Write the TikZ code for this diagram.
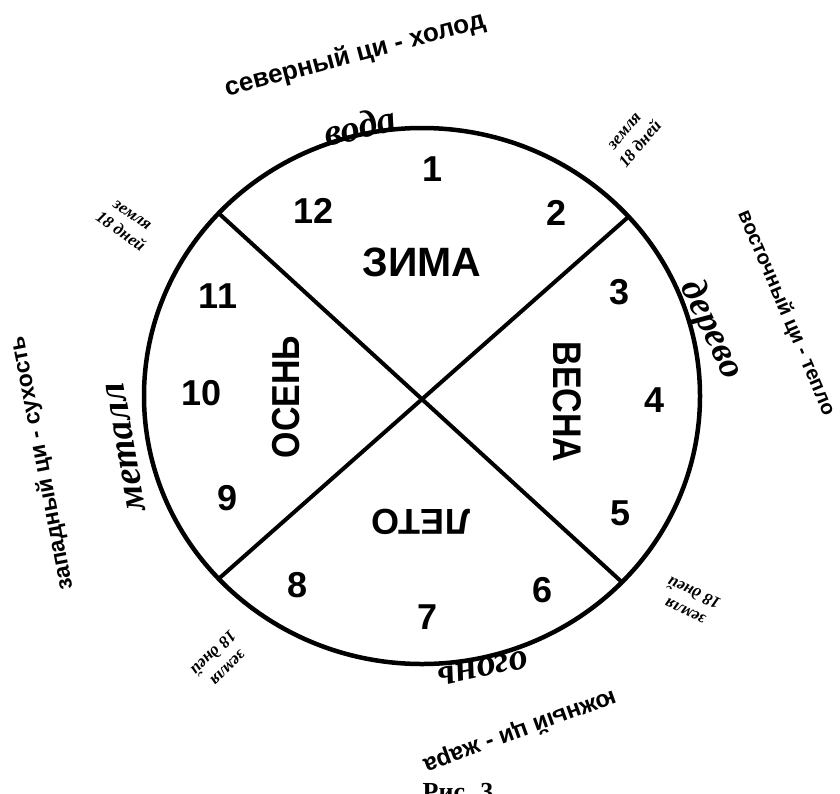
\documentclass[tikz,border=0pt]{standalone}
\usepackage{fontspec}
\setmainfont{Liberation Sans}
\newfontfamily\handfont{Liberation Serif}
\begin{document}
\begin{tikzpicture}[x=1pt,y=-1pt,
  rim/.style={line width=4.5pt},
  diag/.style={line width=4pt},
  num/.style={font=\fontsize{36}{40}\selectfont\bfseries},
  season/.style={font=\fontsize{#1}{#1}\selectfont\bfseries},
  qi/.style={font=\fontsize{#1}{#1}\selectfont\bfseries},
  elem/.style={font=\fontsize{#1}{#1}\selectfont\handfont\bfseries\itshape},
  earth/.style={font=\fontsize{17}{21}\selectfont\handfont\bfseries\itshape, align=center}]
\fill[white] (0,0) rectangle (840,793);
\useasboundingbox (0,0) rectangle (840,793);
\coordinate (c) at (422,396);
\draw[rim] (c) ellipse [x radius=278, y radius=268];
\path (c) ++(-137:278 and 268) coordinate (tl);
\path (c) ++(44:278 and 268) coordinate (br);
\path (c) ++(-42:278 and 268) coordinate (tr);
\path (c) ++(137:278 and 268) coordinate (bl);
\draw[diag] (tl) -- (br);
\draw[diag] (tr) -- (bl);
% month numbers
\node[num] (n1) at (433,169) {1};
\node[num] (n2) at (557,213) {2};
\node[num] (n3) at (620,292) {3};
\node[num] (n4) at (655,400) {4};
\node[num] (n5) at (621,513) {5};
\node[num] (n6) at (543,590) {6};
\node[num] (n7) at (428,617) {7};
\node[num] (n8) at (298,585) {8};
\node[num] (n9) at (228,498) {9};
\node[num] (n10) at (202,393) {10};
\node[num] (n11) at (218,296) {11};
\node[num] (n12) at (314,211) {12};
% seasons
\node[season=41] (zima) at (422,262) {ЗИМА};
\node[season=40, rotate=-90] (vesna) at (567,402) {\scalebox{0.85}[1]{ВЕСНА}};
\node[season=39, rotate=90] (osen) at (286,397) {\scalebox{0.87}[1]{ОСЕНЬ}};
\node[season=36, rotate=180] (leto) at (421,522) {ЛЕТО};
% qi of the four directions
\node[qi=26, rotate=15] (north) at (355,55) {северный ци - холод};
\node[qi=20.5, rotate=-67] (east) at (786,313) {восточный ци - тепло};
\node[qi=23, rotate=101] (west) at (42,463) {западный ци - сухость};
\node[qi=24, rotate=200] (south) at (520,731) {южный ци - жара};
% elements
\node[elem=38, rotate=13] (water) at (360,126) {вода};
\node[elem=37, rotate=-65] (wood) at (711,330) {дерево};
\node[elem=38, rotate=100] (metal) at (126,447) {металл};
\node[elem=38, rotate=192] (fire) at (483,668) {огонь};
% earth, 18 days
\node[earth, rotate=50] (e1) at (633,138) {земля\\18 дней};
\node[earth, rotate=-35] (e2) at (126,224) {земля\\18 дней};
\node[earth, rotate=225] (e3) at (220,660) {земля\\18 дней};
\node[earth, rotate=155] (e4) at (690,601) {земля\\18 дней};
% caption, cut by the page edge
\node[font=\fontsize{26}{26}\selectfont\handfont\bfseries, anchor=base] (cap) at (458,800) {Рис. 3};
\end{tikzpicture}
\end{document}
